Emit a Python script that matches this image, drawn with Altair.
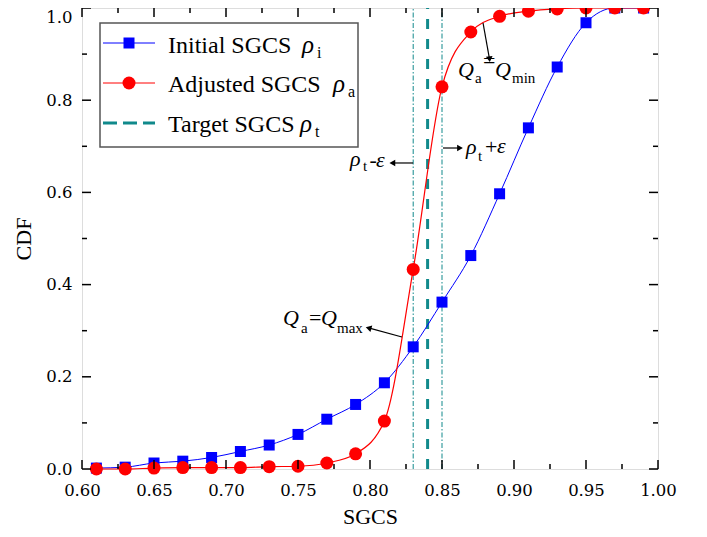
import altair as alt
import pandas as pd

# ---------------- data ----------------
sgcs = [0.61, 0.63, 0.65, 0.67, 0.69, 0.71, 0.73, 0.75, 0.77, 0.79,
        0.81, 0.83, 0.85, 0.87, 0.89, 0.91, 0.93, 0.95, 0.97, 0.99]
initial_cdf = [0.002, 0.004, 0.013, 0.017, 0.025, 0.038, 0.052, 0.075, 0.108, 0.140,
               0.187, 0.265, 0.362, 0.463, 0.597, 0.740, 0.872, 0.968, 1.000, 1.000]
adjusted_cdf = [0.000, 0.000, 0.002, 0.003, 0.003, 0.003, 0.005, 0.006, 0.013, 0.033,
                0.104, 0.433, 0.829, 0.948, 0.982, 0.993, 0.998, 1.000, 1.000, 1.000]
target = [0.84]
eps_lines = [0.83, 0.85]

x_ticks = [0.60, 0.65, 0.70, 0.75, 0.80, 0.85, 0.90, 0.95, 1.00]
x_minor = [0.625, 0.675, 0.725, 0.775, 0.825, 0.875, 0.925, 0.975]
y_ticks = [0.0, 0.2, 0.4, 0.6, 0.8, 1.0]
y_minor = [0.1, 0.3, 0.5, 0.7, 0.9]

# annotation pieces (data coordinates of text anchors)
ann_italic_text = ["Q", "Q", "Q", "Q", "ρ", "ε", "ρ", "ε"]
ann_italic_x = [0.8611, 0.8868, 0.7396, 0.7660, 0.7861, 0.8042, 0.8667, 0.8882]
ann_italic_y = [0.850, 0.850, 0.312, 0.312, 0.657, 0.655, 0.683, 0.685]
ann_norm_text = ["a", "=", "min", "a", "=", "max", "t", "-", "t", "+"]
ann_norm_x = [0.8729, 0.8785, 0.8986, 0.7521, 0.7576, 0.7771, 0.7951, 0.7996, 0.8750, 0.8799]
ann_norm_y = [0.837, 0.870, 0.837, 0.295, 0.313, 0.295, 0.646, 0.655, 0.668, 0.684]
ann_norm_size = [15, 22, 15, 15, 22, 15, 15, 22, 15, 22]

# arrows: shaft start/end and head
arrow_x1 = [0.8785, 0.8299, 0.8507, 0.8222]
arrow_y1 = [0.9675, 0.6638, 0.6963, 0.2863]
arrow_x2 = [0.8830, 0.8155, 0.8625, 0.7990]
arrow_y2 = [0.8890, 0.6638, 0.6963, 0.3060]
arrow_angle = [174, 270, 90, 286]

# legend
legend_labels = ["Initial SGCS", "Adjusted SGCS", "Target SGCS"]
legend_subs = ["i", "a", "t"]

BLUE = "#0000ff"
RED = "#ff0000"
TEAL = "#10898b"
SERIF = "Liberation Serif"
TICKFONT = "DejaVu Serif"

W, H = 576, 461

xscale = alt.Scale(domain=[0.6, 1.0], nice=False, zero=False)
yscale = alt.Scale(domain=[0.0, 1.0], nice=False)
xaxis = alt.Axis(values=x_ticks, format=".2f", ticks=False, domain=False, grid=False,
                 labelFont=TICKFONT, labelFontSize=16.5, labelColor="black", labelPadding=13,
                 labelFlush=False,
                 title="SGCS", titleFont=SERIF, titleFontSize=22, titleFontWeight="normal",
                 titleColor="black", titlePadding=8)
yaxis = alt.Axis(values=y_ticks, format=".1f", ticks=False, domain=False, grid=False,
                 labelFont=TICKFONT, labelFontSize=16.5, labelColor="black", labelPadding=10,
                 labelFlush=False,
                 labelOffset={"condition": {"test": "datum.value === 1", "value": 9}, "value": 0},
                 title="CDF", titleFont=SERIF, titleFontSize=22, titleFontWeight="normal",
                 titleColor="black", titlePadding=10)


def X(f):
    return alt.X(f, type="quantitative", scale=xscale, axis=xaxis)


def Y(f):
    return alt.Y(f, type="quantitative", scale=yscale, axis=yaxis)


df = pd.DataFrame({"sgcs": sgcs, "initial": initial_cdf, "adjusted": adjusted_cdf})

layers = []

# vertical reference lines
eps_df = pd.DataFrame({"x": eps_lines, "y0": [0.0] * 2, "y1": [1.0] * 2})
layers.append(alt.Chart(eps_df).mark_rule(color=TEAL, strokeWidth=1, strokeDash=[5, 2, 1.5, 2])
              .encode(x=X("x"), y=Y("y0"), y2="y1"))
tgt_df = pd.DataFrame({"x": target, "y0": [0.0], "y1": [1.0]})
layers.append(alt.Chart(tgt_df).mark_rule(color=TEAL, strokeWidth=3, strokeDash=[10, 10])
              .encode(x=X("x"), y=Y("y0"), y2="y1"))

# curves
layers.append(alt.Chart(df).mark_line(color=BLUE, strokeWidth=1, interpolate="monotone")
              .encode(x=X("sgcs"), y=Y("initial")))
layers.append(alt.Chart(df).mark_line(color=RED, strokeWidth=1.2, interpolate="monotone")
              .encode(x=X("sgcs"), y=Y("adjusted")))
layers.append(alt.Chart(df).mark_point(shape="square", filled=True, size=121, color=BLUE, opacity=1)
              .encode(x=X("sgcs"), y=Y("initial")))
layers.append(alt.Chart(df).mark_point(shape="circle", filled=True, size=169, color=RED, opacity=1)
              .encode(x=X("sgcs"), y=Y("adjusted")))

# inward ticks
xt = pd.DataFrame({"v": x_ticks})
xm = pd.DataFrame({"v": x_minor})
yt = pd.DataFrame({"v": y_ticks})
ym = pd.DataFrame({"v": y_minor})
for d, L in ((xt, 9), (xm, 5)):
    layers.append(alt.Chart(d).mark_rule(color="black", strokeWidth=1.5)
                  .encode(x=X("v"), y=alt.value(H), y2=alt.value(H - L)))
    layers.append(alt.Chart(d).mark_rule(color="black", strokeWidth=1.5)
                  .encode(x=X("v"), y=alt.value(0), y2=alt.value(L)))
for d, L in ((yt, 9), (ym, 5)):
    layers.append(alt.Chart(d).mark_rule(color="black", strokeWidth=1.5)
                  .encode(y=Y("v"), x=alt.value(0), x2=alt.value(L)))
    layers.append(alt.Chart(d).mark_rule(color="black", strokeWidth=1.5)
                  .encode(y=Y("v"), x=alt.value(W), x2=alt.value(W - L)))

# annotations
ai = pd.DataFrame({"t": ann_italic_text, "x": ann_italic_x, "y": ann_italic_y})
layers.append(alt.Chart(ai).mark_text(font=SERIF, fontStyle="italic", fontSize=22, align="left",
                                      baseline="alphabetic", color="black")
              .encode(x=X("x"), y=Y("y"), text="t"))
an = pd.DataFrame({"t": ann_norm_text, "x": ann_norm_x, "y": ann_norm_y, "s": ann_norm_size})
layers.append(alt.Chart(an).mark_text(font=SERIF, align="left", baseline="alphabetic", color="black")
              .encode(x=X("x"), y=Y("y"), text="t", size=alt.Size("s:Q", scale=None)))
ar = pd.DataFrame({"x1": arrow_x1, "y1": arrow_y1, "x2": arrow_x2, "y2": arrow_y2, "a": arrow_angle})
layers.append(alt.Chart(ar).mark_rule(color="black", strokeWidth=1.2)
              .encode(x=X("x1"), y=Y("y1"), x2="x2", y2="y2"))
layers.append(alt.Chart(ar).mark_point(shape="triangle-up", filled=True, size=45, color="black", opacity=1)
              .encode(x=X("x2"), y=Y("y2"), angle=alt.Angle("a:Q", scale=None)))

# legend (pixel layout)
one = alt.Data(values=[{}])
layers.append(alt.Chart(one).mark_rect(fill="white", stroke="#555555", strokeWidth=1.5)
              .encode(x=alt.value(18), x2=alt.value(276), y=alt.value(15), y2=alt.value(139)))
row_y = [35, 75, 115]
layers.append(alt.Chart(one).mark_rule(color=BLUE, strokeWidth=1)
              .encode(x=alt.value(21), x2=alt.value(73), y=alt.value(row_y[0])))
layers.append(alt.Chart(one).mark_point(shape="square", filled=True, size=121, color=BLUE, opacity=1)
              .encode(x=alt.value(47), y=alt.value(row_y[0])))
layers.append(alt.Chart(one).mark_rule(color=RED, strokeWidth=1)
              .encode(x=alt.value(21), x2=alt.value(73), y=alt.value(row_y[1])))
layers.append(alt.Chart(one).mark_point(shape="circle", filled=True, size=169, color=RED, opacity=1)
              .encode(x=alt.value(47), y=alt.value(row_y[1])))
layers.append(alt.Chart(one).mark_rule(color=TEAL, strokeWidth=3, strokeDash=[14, 6])
              .encode(x=alt.value(21), x2=alt.value(73), y=alt.value(row_y[2])))
leg_base = [45, 84, 124]
rho_x = [220, 251, 218]
for i in range(3):
    layers.append(alt.Chart(one).mark_text(font=SERIF, fontSize=24, align="left", baseline="alphabetic",
                                           color="black")
                  .encode(x=alt.value(86), y=alt.value(leg_base[i]), text=alt.value(legend_labels[i])))
    layers.append(alt.Chart(one).mark_text(font=SERIF, fontStyle="italic", fontSize=25, align="left",
                                           baseline="alphabetic", color="black")
                  .encode(x=alt.value(rho_x[i]), y=alt.value(leg_base[i]), text=alt.value("ρ")))
    layers.append(alt.Chart(one).mark_text(font=SERIF, fontSize=16, align="left", baseline="alphabetic",
                                           color="black")
                  .encode(x=alt.value(rho_x[i] + 15), y=alt.value(leg_base[i] + 5),
                          text=alt.value(legend_subs[i])))

chart = alt.layer(*layers).properties(
    width=W, height=H,
    padding={"left": 74, "top": 0, "right": 34, "bottom": 60},
    autosize=alt.AutoSizeParams(type="none"),
).configure_view(stroke="black", strokeWidth=2).configure(background="white")

chart.save("out.html", embed_options={"renderer": "svg", "actions": False})
